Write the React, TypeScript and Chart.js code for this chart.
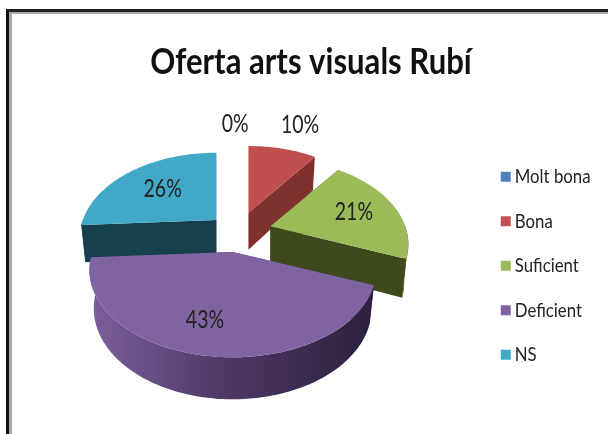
import React, { useEffect, useRef } from "react";
import { Chart, registerables } from "chart.js";

Chart.register(...registerables);

const categories = ["Molt bona", "Bona", "Suficient", "Deficient", "NS"];
const values = [0, 10, 21, 43, 26];
const topColors = ["#4F81BD", "#C0504D", "#9BBB59", "#8064A2", "#41A9C7"];
const sideLeft = ["#2A4A70", "#7F312D", "#3E4A1C", "#7B5F9C", "#17404F"];
const sideMid = ["#2A4A70", "#7F312D", "#3E4A1C", "#4C3763", "#17404F"];
const sideRight = ["#2A4A70", "#7F312D", "#3E4A1C", "#2C1F3E", "#17404F"];
const explode = [32, 32, 32, 32, 28];
const labelRadii = [1.4, 1.5, 0.67, 0.72, 0.6];
const labelTurn = [-0.02, 0.03, 0, 0.08, 0];
const paintOrder = [0, 1, 4, 2, 3];

const TITLE = "Oferta arts visuals Rubí";
const FONT = "Lato";
const RADIUS = 130;

// Tilted-disc projection of the library's arcs
const CENTER_X = 238;
const CENTER_Y = 232;
const SCALE_X = 136;
const SCALE_Y = 82;
const PERSPECTIVE = 0.21;
const SLICE_PERSPECTIVE = 0.12;
const DEPTH = 37;
const DEPTH_PERSPECTIVE = 0.12;
const BOTTOM_SHRINK = 0.97;

// The reference's text is condensed; no installed face is, so squeeze it.
const CONDENSE = 0.84;
const LABEL_CONDENSE = 0.78 / CONDENSE;
const LEGEND_TEXT_SHIFT = -6;

const condensedText = {
  id: "condensedText",
  beforeInit(chart: any) {
    const ctx = chart.ctx;
    const original = ctx.fillText.bind(ctx);
    ctx.fillText = (text: string, x: number, y: number, maxWidth?: number) => {
      const w = ctx.measureText(text).width * CONDENSE;
      const limit = maxWidth === undefined ? w : Math.min(w, maxWidth);
      const px = ctx.textAlign === "left" ? x + LEGEND_TEXT_SHIFT : x;
      original(text, px, y, limit);
    };
  },
};

const pieView = {
  id: "pieView",
  beforeDatasetsDraw(chart: any) {
    const ctx = chart.ctx;
    const meta = chart.getDatasetMeta(0);
    const slices = meta.data.map((arc: any) => {
      const p = arc.getProps(["startAngle", "endAngle", "outerRadius"], true);
      const a0 = p.startAngle + Math.PI / 2;
      const a1 = p.endAngle + Math.PI / 2;
      const mid = (a0 + a1) / 2;
      const d = (arc.options.offset || 0) / p.outerRadius;
      const oy = -d * Math.cos(mid);
      const s = 1 / (1 - SLICE_PERSPECTIVE * oy);
      return {
        a0,
        a1,
        mid,
        ax: CENTER_X + 137 * d * Math.sin(mid),
        ay: CENTER_Y + SCALE_Y * oy,
        sx: SCALE_X * s,
        sy: SCALE_Y * Math.sqrt(s),
      };
    });
    const top = (s: any, r: number, ang: number) => {
      const x = r * Math.sin(ang);
      const y = -r * Math.cos(ang);
      const w = 1 - PERSPECTIVE * y;
      return [s.ax + (s.sx * x) / w, s.ay + (s.sy * y) / w, y];
    };
    const bottom = (s: any, r: number, ang: number) => {
      const [px, py, y] = top(s, r, ang);
      return [
        s.ax + (px - s.ax) * BOTTOM_SHRINK,
        py + DEPTH / (1 - DEPTH_PERSPECTIVE * y),
      ];
    };
    const fillPoly = (pts: number[][], fill: any) => {
      ctx.beginPath();
      pts.forEach((q, i) => (i ? ctx.lineTo(q[0], q[1]) : ctx.moveTo(q[0], q[1])));
      ctx.closePath();
      ctx.fillStyle = fill;
      ctx.fill();
    };
    ctx.save();
    paintOrder.forEach((i) => {
      const s = slices[i];
      if (s.a1 - s.a0 < 1e-4) return;
      const apexTop = top(s, 0, 0);
      const apexBot = bottom(s, 0, 0);
      [s.a0, s.a1].forEach((ang) => {
        fillPoly([apexTop, top(s, 1, ang), bottom(s, 1, ang), apexBot], sideMid[i]);
      });
      const from = Math.max(s.a0, Math.PI / 2);
      const to = Math.min(s.a1, (3 * Math.PI) / 2);
      if (to > from) {
        const upper: number[][] = [];
        const lower: number[][] = [];
        const n = Math.ceil((to - from) / 0.02);
        for (let k = 0; k <= n; k++) {
          const ang = from + ((to - from) * k) / n;
          upper.push(top(s, 1, ang));
          lower.unshift(bottom(s, 1, ang));
        }
        const xs = upper.map((q) => q[0]);
        const g = ctx.createLinearGradient(Math.min(...xs), 0, Math.max(...xs), 0);
        g.addColorStop(0, sideLeft[i]);
        g.addColorStop(0.5, sideMid[i]);
        g.addColorStop(1, sideRight[i]);
        fillPoly([...upper, ...lower], g);
      }
      const face: number[][] = [apexTop];
      const n = Math.ceil((s.a1 - s.a0) / 0.02);
      for (let k = 0; k <= n; k++) face.push(top(s, 1, s.a0 + ((s.a1 - s.a0) * k) / n));
      fillPoly(face, topColors[i]);
    });
    ctx.font = "25px " + FONT;
    ctx.fillStyle = "#222222";
    ctx.textAlign = "center";
    ctx.textBaseline = "middle";
    slices.forEach((s: any, i: number) => {
      const q = top(s, labelRadii[i], s.mid + labelTurn[i]);
      const text = values[i] + "%";
      ctx.fillText(text, q[0], q[1], ctx.measureText(text).width * CONDENSE * LABEL_CONDENSE);
    });
    ctx.restore();
    return false;
  },
};

export default function App() {
  const ref = useRef<HTMLCanvasElement>(null);
  useEffect(() => {
    const chart = new Chart(ref.current as HTMLCanvasElement, {
      type: "pie",
      data: {
        labels: categories,
        datasets: [
          {
            data: values,
            backgroundColor: topColors,
            borderWidth: 0,
            offset: explode,
          },
        ],
      },
      options: {
        animation: false,
        responsive: false,
        radius: RADIUS,
        layout: { padding: { left: 1, right: -13, top: 0, bottom: 0 } },
        plugins: {
          tooltip: { enabled: false },
          title: {
            display: true,
            text: TITLE,
            color: "#111111",
            font: { family: FONT, size: 37, weight: "bold", lineHeight: 1.2 },
            padding: { top: 40, bottom: 13 },
          },
          legend: {
            position: "right",
            fullSize: false,
            labels: {
              boxWidth: 10,
              boxHeight: 10,
              padding: 24.5,
              color: "#222222",
              font: { family: FONT, size: 20 },
            },
          },
        },
      },
      plugins: [condensedText, pieView],
    } as any);
    return () => chart.destroy();
  }, []);
  return (
    <div
      style={{
        position: "fixed",
        left: 0,
        top: 0,
        width: 608,
        height: 434,
        overflow: "hidden",
        background: "#fff",
      }}
    >
      <div
        style={{
          position: "absolute",
          left: 6,
          top: 9,
          right: 0,
          bottom: 0,
          borderLeft: "3px solid #111",
          borderTop: "3px solid #222",
        }}
      >
        <div
          style={{
            position: "absolute",
            left: 0,
            top: 0,
            right: 0,
            bottom: 0,
            borderLeft: "3px solid #a8a8a8",
            borderTop: "2px solid #a8a8a8",
          }}
        />
      </div>
      <canvas
        ref={ref}
        width={608}
        height={434}
        style={{ position: "absolute", left: 0, top: 0, display: "block" }}
      />
    </div>
  );
}
